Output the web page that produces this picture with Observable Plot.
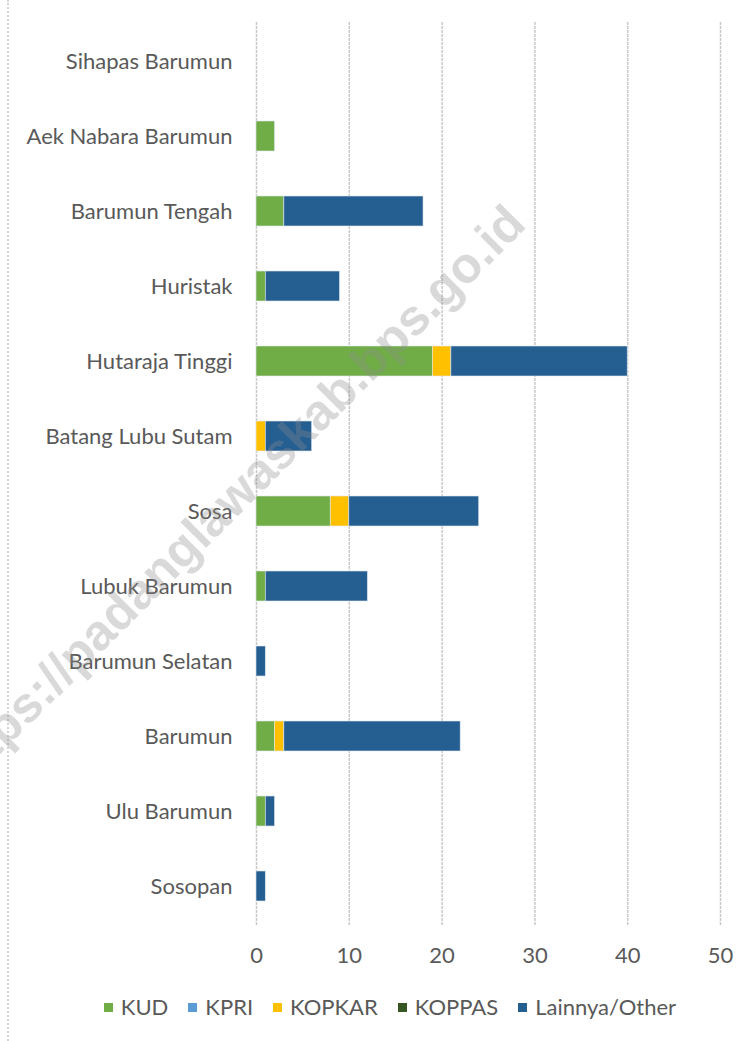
<!DOCTYPE html>
<html>
<head>
<meta charset="utf-8">
<script src="https://cdn.jsdelivr.net/npm/d3@7"></script>
<script src="https://cdn.jsdelivr.net/npm/@observablehq/plot@0.6"></script>
<style>
  html, body { margin: 0; padding: 0; background: #fff; }
  #wrap { position: relative; width: 754px; height: 1041px; overflow: hidden; }
  #border { position: absolute; left: 7px; top: 0; width: 0; height: 1041px; border-left: 2px dotted #d4d4d4; }
  #legend { position: absolute; left: 13px; top: 994px; width: 754px; display: flex; justify-content: center; font-family: Lato, sans-serif; font-size: 22px; color: #595959; line-height: 26px; }
  .item { display: flex; align-items: center; margin: 0 10px; }
  .sw { width: 9px; height: 9px; margin-right: 8px; display: inline-block; }
  #wm { position: absolute; left: 232px; top: 498px; transform: translate(-50%, -50%) rotate(-45deg); white-space: nowrap; font-family: "Liberation Sans", Arial, sans-serif; font-weight: bold; font-size: 50px; color: rgba(140,140,140,0.33); pointer-events: none; }
</style>
</head>
<body>
<div id="wrap">
  <div id="border"></div>
  <div id="chart"></div>
  <div id="legend"></div>
  <div id="wm">https://padanglawaskab.bps.go.id</div>
</div>
<script>
const categories = ["Sihapas Barumun","Aek Nabara Barumun","Barumun Tengah","Huristak","Hutaraja Tinggi","Batang Lubu Sutam","Sosa","Lubuk Barumun","Barumun Selatan","Barumun","Ulu Barumun","Sosopan"];
const seriesNames = ["KUD","KPRI","KOPKAR","KOPPAS","Lainnya/Other"];
const seriesColors = ["#70AD47","#5B9BD5","#FFC000","#375623","#255E91"];
const kud    = [0,2,3,1,19,0,8,1,0,2,1,0];
const kpri   = [0,0,0,0,0,0,0,0,0,0,0,0];
const kopkar = [0,0,0,0,2,1,2,0,0,1,0,0];
const koppas = [0,0,0,0,0,0,0,0,0,0,0,0];
const other  = [0,0,15,8,19,5,14,11,1,19,1,1];
const xTicks = [0,10,20,30,40,50];

const seriesValues = [kud, kpri, kopkar, koppas, other];
const rows = [];
seriesNames.forEach((s, si) => {
  categories.forEach((c, ci) => {
    rows.push({cat: c, series: s, value: seriesValues[si][ci]});
  });
});

const chart = Plot.plot({
  width: 754,
  height: 980,
  marginLeft: 256,
  marginRight: 34,
  marginTop: 22,
  marginBottom: 55,
  style: {fontFamily: "Lato, sans-serif", fontSize: "22px", color: "#595959", background: "transparent"},
  x: {domain: [0, 50]},
  y: {domain: categories, paddingInner: 0.6, paddingOuter: 0.3, align: 0.5},
  color: {domain: seriesNames, range: seriesColors},
  marks: [
    Plot.gridX(xTicks, {stroke: "#c8c8c8", strokeOpacity: 1, strokeWidth: 1.5, strokeDasharray: "3,1"}),
    Plot.barX(rows.filter(d => d.value > 0), Plot.stackX({x: "value", y: "cat", fill: "series", order: seriesNames, stroke: "#dfe8f2", strokeWidth: 0.6})),
    Plot.axisX({ticks: xTicks, tickSize: 0, tickPadding: 22, label: null, fontSize: 22}),
    Plot.axisY({tickSize: 0, tickPadding: 24, label: null, fontSize: 22})
  ]
});
document.getElementById("chart").appendChild(chart);

const leg = document.getElementById("legend");
seriesNames.forEach((s, i) => {
  const it = document.createElement("span");
  it.className = "item";
  const sw = document.createElement("span");
  sw.className = "sw";
  sw.style.background = seriesColors[i];
  const t = document.createElement("span");
  t.textContent = s;
  it.appendChild(sw); it.appendChild(t);
  leg.appendChild(it);
});
</script>
</body>
</html>
